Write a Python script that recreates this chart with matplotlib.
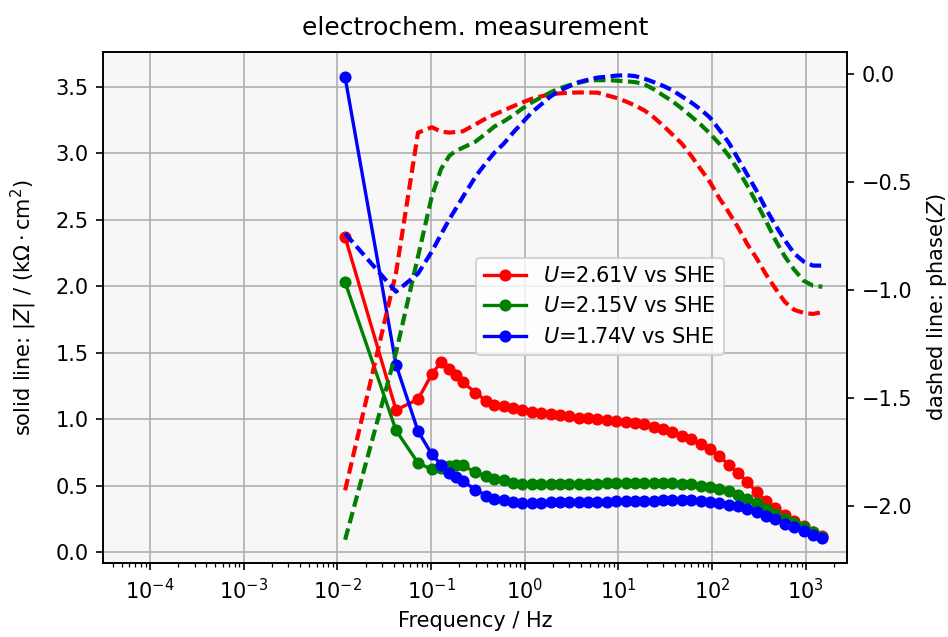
import matplotlib
matplotlib.use("Agg")
import matplotlib.pyplot as plt

# frequencies in Hz
freq = [0.0121, 0.0423, 0.0726, 0.102, 0.128, 0.157, 0.185, 0.218, 0.297, 0.386, 0.474,
        0.597, 0.751, 0.946, 1.19, 1.50, 1.89, 2.38, 2.99, 3.77, 4.74, 5.97,
        7.51, 9.46, 11.9, 15.0, 18.9, 23.8, 29.9, 37.7, 47.4, 59.7, 75.1, 94.6,
        119, 150, 189, 238, 299, 377, 474, 597, 751, 946, 1191, 1500]

# |Z| in kOhm cm^2
z_261 = [2.37, 1.07, 1.15, 1.34, 1.43, 1.38, 1.33, 1.28, 1.20, 1.14, 1.11,
         1.10, 1.087, 1.067, 1.054, 1.049, 1.037, 1.029, 1.024, 1.011, 1.007, 1.0,
         0.995, 0.99, 0.98, 0.969, 0.962, 0.944, 0.928, 0.904, 0.873, 0.849, 0.815, 0.773,
         0.723, 0.660, 0.597, 0.527, 0.452, 0.384, 0.334, 0.284, 0.233, 0.196, 0.155, 0.122]
z_215 = [2.03, 0.916, 0.672, 0.623, 0.635, 0.648, 0.653, 0.653, 0.602, 0.572, 0.552,
         0.54, 0.522, 0.517, 0.515, 0.514, 0.514, 0.514, 0.515, 0.515, 0.516, 0.517,
         0.518, 0.519, 0.520, 0.521, 0.522, 0.522, 0.521, 0.519, 0.516, 0.51, 0.502, 0.492,
         0.477, 0.459, 0.434, 0.401, 0.367, 0.329, 0.288, 0.254, 0.221, 0.188, 0.151, 0.113]
z_174 = [3.57, 1.41, 0.911, 0.736, 0.66, 0.597, 0.565, 0.535, 0.472, 0.427, 0.404,
         0.397, 0.379, 0.371, 0.372, 0.374, 0.375, 0.376, 0.377, 0.378, 0.379, 0.38,
         0.381, 0.383, 0.384, 0.386, 0.388, 0.389, 0.39, 0.391, 0.39, 0.39, 0.384, 0.379,
         0.371, 0.359, 0.346, 0.329, 0.303, 0.276, 0.251, 0.216, 0.188, 0.158, 0.133, 0.108]

# phase(Z)
ph_261 = [-1.928, -0.92, -0.271, -0.246, -0.266, -0.271, -0.268, -0.265, -0.233, -0.205, -0.187,
          -0.168, -0.149, -0.131, -0.114, -0.103, -0.093, -0.089, -0.086, -0.085, -0.085, -0.086,
          -0.098, -0.11, -0.126, -0.145, -0.168, -0.2, -0.238, -0.28, -0.322, -0.378, -0.439, -0.5,
          -0.574, -0.64, -0.71, -0.789, -0.854, -0.929, -0.994, -1.055, -1.092, -1.106, -1.111, -1.102]
ph_215 = [-2.157, -1.289, -0.845, -0.565, -0.439, -0.378, -0.355, -0.341, -0.313, -0.275, -0.243,
          -0.219, -0.191, -0.159, -0.131, -0.107, -0.084, -0.065, -0.051, -0.04, -0.03, -0.028,
          -0.028, -0.03, -0.033, -0.037, -0.047, -0.07, -0.098, -0.126, -0.159, -0.196, -0.233, -0.275,
          -0.322, -0.378, -0.444, -0.518, -0.598, -0.682, -0.77, -0.845, -0.906, -0.957, -0.98, -0.985]
ph_174 = [-0.738, -1.008, -0.924, -0.822, -0.742, -0.672, -0.621, -0.57, -0.476, -0.411, -0.364,
          -0.322, -0.271, -0.224, -0.177, -0.14, -0.103, -0.075, -0.056, -0.037, -0.026, -0.016,
          -0.012, -0.007, -0.005, -0.009, -0.021, -0.037, -0.054, -0.075, -0.103, -0.131, -0.163, -0.201,
          -0.257, -0.317, -0.392, -0.467, -0.542, -0.626, -0.7, -0.77, -0.831, -0.868, -0.887, -0.887]

labels = ["$U$=2.61V vs SHE", "$U$=2.15V vs SHE", "$U$=1.74V vs SHE"]
colors = ["r", "g", "b"]

fig = plt.figure(figsize=(948 / 150, 637 / 150), dpi=150)
ax1 = fig.add_axes([0.1087, 0.1162, 0.7848, 0.8022])
ax1.set_facecolor("#f7f7f7")
ax2 = ax1.twinx()

for z, ph, c, lab in zip([z_261, z_215, z_174], [ph_261, ph_215, ph_174], colors, labels):
    ax1.plot(freq, z, "o-", color=c, label=lab, markersize=4.8, linewidth=1.6)
    ax2.plot(freq, ph, "--", color=c, linewidth=2, dashes=(2.8, 1.3))

ax1.set_xscale("log")
ax1.set_xlim(3.16e-5, 2.75e3)
ax1.set_ylim(-0.08, 3.76)
ax1.grid(True)
ax1.set_axisbelow(True)
ax1.set_xlabel("Frequency / Hz")
ax1.set_ylabel(r"solid line: |$Z$| / (k$\Omega\cdot$cm$^2$)", labelpad=8)
ax2.set_ylabel("dashed line: phase($Z$)", labelpad=6)
ax1.set_title("electrochem. measurement", pad=8)

ax2.legend(*ax1.get_legend_handles_labels(), loc="center", bbox_to_anchor=(0.668, 0.502))

fig.savefig("out.png", dpi=150)
